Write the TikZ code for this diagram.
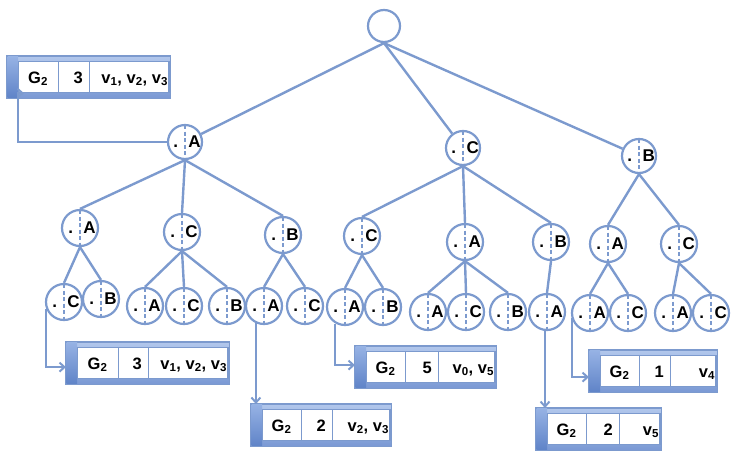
\documentclass[tikz,border=0pt]{standalone}
\usepackage{fontspec}
\setmainfont{Liberation Sans}
\usetikzlibrary{arrows.meta,shapes.multipart,backgrounds}

\definecolor{linec}{RGB}{124,154,206}
\definecolor{frametop}{RGB}{178,199,236}
\definecolor{framebot}{RGB}{122,153,212}
\definecolor{tabtop}{RGB}{150,178,228}
\definecolor{tabbot}{RGB}{96,132,200}

% dot left of the dashed line, letter right of it
\newcommand{\vl}[1]{\llap{.\hspace{7pt}}\rlap{\hspace{3.5pt}#1}}
% table cells
\newcommand{\cg}[2]{\makebox[#1pt][c]{\rule[-9.5pt]{0pt}{31pt}#2}}
\newcommand{\cn}[2]{\makebox[#1pt][r]{\rule[-9.5pt]{0pt}{31pt}#2\hspace{6pt}}}
\newcommand{\cv}[2]{\makebox[#1pt][r]{\rule[-9.5pt]{0pt}{31pt}#2\hspace{1pt}}}

\tikzset{
	vert/.style={circle, draw=linec, line width=2.2pt, fill=white, minimum size=36pt, inner sep=0pt,
		font=\bfseries\fontsize{17}{17}\selectfont,
		path picture={\draw[linec, line width=1.6pt, dash pattern=on 4pt off 2.5pt]
			(path picture bounding box.north) -- (path picture bounding box.south);}},
	lvlone/.style={vert, minimum size=34pt},
	rootc/.style={circle, draw=linec, line width=2.2pt, fill=white, minimum size=32pt},
	treeline/.style={draw=linec, line width=2.4pt},
	glink/.style={draw=linec, line width=2pt, -{Straight Barb[length=5pt,width=9pt]}},
	gcells/.style={rectangle split, rectangle split horizontal, rectangle split parts=3,
		draw=linec, line width=1.2pt, fill=white, inner sep=0pt, anchor=north west,
		font=\bfseries\fontsize{16.5}{16.5}\selectfont},
	gframe/.style={draw=linec, line width=1.2pt, top color=frametop, bottom color=framebot},
	gtab/.style={top color=tabtop, bottom color=tabbot}
}

\begin{document}
\begin{tikzpicture}[x=1pt,y=-1pt]
	\useasboundingbox (0,0) rectangle (735,458);

	% root and first level
	\node[rootc] (root) at (384,26) {};
	\node[lvlone] (a) at (185,142) {\vl{A}};
	\node[lvlone] (c) at (463,148) {\vl{C}};
	\node[lvlone] (b) at (639,156) {\vl{B}};

	% second level
	\node[vert] (aa) at (80,228) {\vl{A}};
	\node[vert] (ac) at (182,232) {\vl{C}};
	\node[vert] (ab) at (283,235) {\vl{B}};
	\node[vert] (cc) at (362,236) {\vl{C}};
	\node[vert] (ca) at (465,242) {\vl{A}};
	\node[vert] (cb) at (551,242) {\vl{B}};
	\node[vert] (ba) at (608,244) {\vl{A}};
	\node[vert] (bc) at (679,244) {\vl{C}};

	% third level
	\node[vert] (aac) at (64,302) {\vl{C}};
	\node[vert] (aab) at (101,299) {\vl{B}};
	\node[vert] (aca) at (145,306) {\vl{A}};
	\node[vert] (acc) at (184,306) {\vl{C}};
	\node[vert] (acb) at (227,306) {\vl{B}};
	\node[vert] (aba) at (264,306) {\vl{A}};
	\node[vert] (abc) at (305,306) {\vl{C}};
	\node[vert] (cca) at (345,307) {\vl{A}};
	\node[vert] (ccb) at (383,307) {\vl{B}};
	\node[vert] (caa) at (428,312) {\vl{A}};
	\node[vert] (cac) at (466,312) {\vl{C}};
	\node[vert] (cab) at (508,312) {\vl{B}};
	\node[vert] (cba) at (547,312) {\vl{A}};
	\node[vert] (baa) at (590,313) {\vl{A}};
	\node[vert] (bac) at (628,313) {\vl{C}};
	\node[vert] (bca) at (673,313) {\vl{A}};
	\node[vert] (bcc) at (711,313) {\vl{C}};

	\foreach \c in {a,c,b}
		\draw[treeline] (root.south) -- (\c);
	\foreach \p/\c in {a/aa,a/ac,a/ab,c/cc,c/ca,c/cb,b/ba,b/bc,
		aa/aac,aa/aab,ac/aca,ac/acc,ac/acb,ab/aba,ab/abc,cc/cca,cc/ccb,
		ca/caa,ca/cac,ca/cab,cb/cba,ba/baa,ba/bac,bc/bca,bc/bcc}
		\draw[treeline] (\p.south) -- (\c.north);

	% result tables
	\node[gcells] (t1) at (18,61) {\cg{39}{G\textsubscript{2}}\nodepart{two}\cn{30}{3}\nodepart{three}\cv{79}{v\textsubscript{1}, v\textsubscript{2}, v\textsubscript{3}}};
	\node[gcells] (t2) at (77,347) {\cg{40}{G\textsubscript{2}}\nodepart{two}\cn{29}{3}\nodepart{three}\cv{79}{v\textsubscript{1}, v\textsubscript{2}, v\textsubscript{3}}};
	\node[gcells] (t3) at (262,409) {\cg{38}{G\textsubscript{2}}\nodepart{two}\cn{30}{2}\nodepart{three}\cv{57}{v\textsubscript{2}, v\textsubscript{3}}};
	\node[gcells] (t4) at (366,351) {\cg{38}{G\textsubscript{2}}\nodepart{two}\cn{32}{5}\nodepart{three}\cv{56}{v\textsubscript{0}, v\textsubscript{5}}};
	\node[gcells] (t5) at (547,413) {\cg{38}{G\textsubscript{2}}\nodepart{two}\cn{32}{2}\nodepart{three}\cv{40}{v\textsubscript{5}}};
	\node[gcells] (t6) at (600,355) {\cg{38}{G\textsubscript{2}}\nodepart{two}\cn{30}{1}\nodepart{three}\cv{45}{v\textsubscript{4}}};

	\begin{scope}[on background layer]
		\foreach \tn in {1,...,6} {
			\shadedraw[gframe] ([xshift=-11pt,yshift=5pt]t\tn.north west) rectangle ([xshift=1pt,yshift=-5pt]t\tn.south east);
			\shade[gtab] ([xshift=-10.4pt,yshift=4.4pt]t\tn.north west) rectangle ([yshift=-4.4pt]t\tn.south west);
			\coordinate (f\tn w) at ([xshift=-11pt]t\tn.west);
			\coordinate (f\tn n) at ([yshift=5pt]t\tn.north);
		}
	\end{scope}

	% links to the tables
	\draw[glink] (a.west) -| (t1.south west) -- ([xshift=6pt]t1.south west);
	\draw[glink] (aac.200) |- ([yshift=-4pt]f2w);
	\draw[glink] (aba.245) -- (aba.245 |- f3n);
	\draw[glink] (cca.240) |- ([yshift=2pt]f4w);
	\draw[glink] (cba.264) -- (cba.264 |- f5n);
	\draw[glink] (baa.195) |- ([yshift=-6pt]f6w);
\end{tikzpicture}
\end{document}
